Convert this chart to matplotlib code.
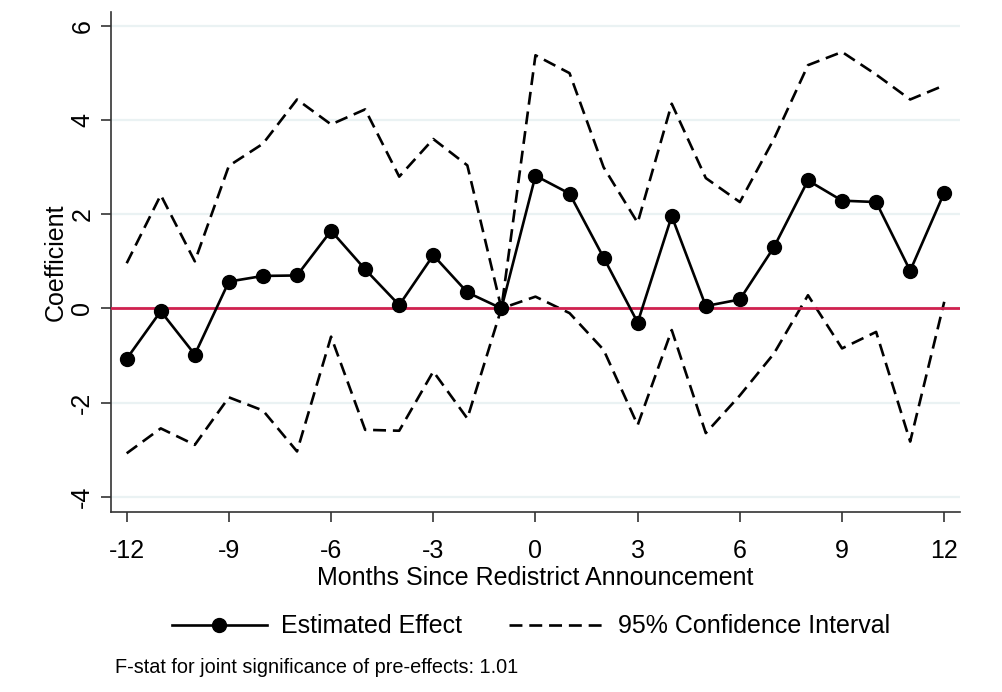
import matplotlib
matplotlib.use("Agg")
import matplotlib.pyplot as plt
from matplotlib.lines import Line2D

# event-time months and estimates
months = list(range(-12, 13))
coef = [-1.07, -0.06, -0.98, 0.57, 0.69, 0.70, 1.65, 0.83, 0.07, 1.13, 0.34, 0.00,
        2.82, 2.44, 1.08, -0.30, 1.96, 0.05, 0.19, 1.30, 2.72, 2.29, 2.26, 0.80, 2.46]
ci_upper = [0.96, 2.41, 1.00, 3.03, 3.50, 4.44, 3.91, 4.23, 2.80, 3.60, 3.04, 0.00,
            5.38, 5.00, 3.00, 1.82, 4.35, 2.77, 2.26, 3.60, 5.17, 5.45, 4.97, 4.44, 4.74]
ci_lower = [-3.08, -2.55, -2.90, -1.89, -2.17, -3.04, -0.60, -2.58, -2.60, -1.34, -2.34, 0.00,
            0.25, -0.10, -0.88, -2.48, -0.46, -2.65, -1.85, -0.96, 0.28, -0.85, -0.50, -2.83, 0.14]
xticks = [-12, -9, -6, -3, 0, 3, 6, 9, 12]
yticks = [-4, -2, 0, 2, 4, 6]
fstat = 1.01

plt.rcParams["font.family"] = ["Liberation Sans", "DejaVu Sans"]
plt.rcParams["axes.unicode_minus"] = False

fig = plt.figure(figsize=(10.02, 6.92), dpi=100)
ax = fig.add_axes([0.1108, 0.2606, 0.8472, 0.7221])

# light horizontal grid
for yv in yticks:
    ax.axhline(yv, color="#EAF2F3", lw=1.6, zorder=0)

lw = 1.9
dash = (4.9, 2.6)
ax.plot(months, ci_upper, color="black", lw=lw, dashes=dash, zorder=2)
ax.plot(months, ci_lower, color="black", lw=lw, dashes=dash, zorder=2)
ax.axhline(0, color="#D0214F", lw=2.0, zorder=3)
ax.plot(months, coef, color="black", lw=lw, marker="o", markersize=10, zorder=4)

ax.set_xlim(-12.46, 12.46)
ax.set_ylim(-4.32, 6.3)
ax.set_xticks(xticks)
ax.set_yticks(yticks)
ax.set_yticklabels([str(v) for v in yticks], rotation=90, va="center")

for s in ["top", "right"]:
    ax.spines[s].set_visible(False)
for s in ["left", "bottom"]:
    ax.spines[s].set_color("#333333")
    ax.spines[s].set_linewidth(1.2)
ax.tick_params(axis="both", length=7, width=1.2, color="#333333", labelsize=18)
ax.tick_params(axis="x", pad=13)
ax.tick_params(axis="y", pad=5)

ax.set_xlabel("Months Since Redistrict Announcement", fontsize=18, labelpad=2)
ax.set_ylabel("Coefficient", fontsize=18, labelpad=2)

handles = [
    Line2D([], [], color="black", lw=lw, marker="o", markersize=10),
    Line2D([], [], color="black", lw=lw, dashes=dash),
]
fig.legend(handles, ["Estimated Effect", "95% Confidence Interval"],
           loc="center", bbox_to_anchor=(0.53, 0.095), ncol=2, frameon=False,
           fontsize=18, handlelength=3.8, handletextpad=0.55, columnspacing=1.9)

fig.text(0.115, 0.035, f"F-stat for joint significance of pre-effects: {fstat:.2f}",
         fontsize=14.3, ha="left", va="center")

fig.savefig("out.png", dpi=100)
